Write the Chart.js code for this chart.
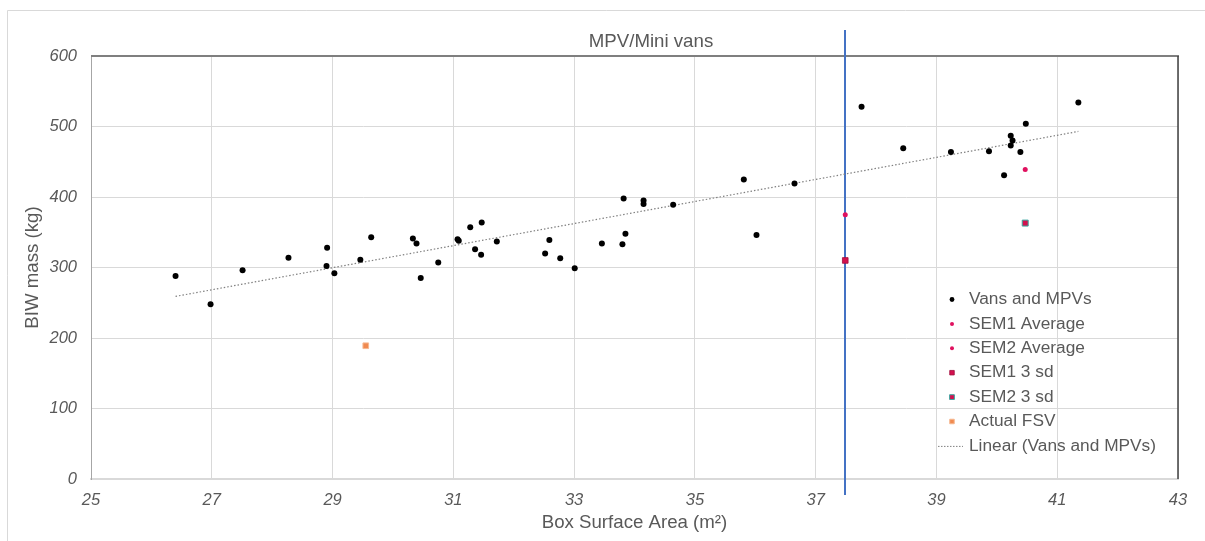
<!DOCTYPE html>
<html><head><meta charset="utf-8">
<script src="https://cdn.jsdelivr.net/npm/chart.js@4"></script>
<style>html,body{margin:0;padding:0;background:#fff;overflow:hidden}canvas{display:block}</style>
</head><body>
<canvas id="c" width="1205" height="541"></canvas>
<script>
const chartTitle = 'MPV/Mini vans';
const xAxisTitle = 'Box Surface Area (m²)';
const yAxisTitle = 'BIW mass (kg)';
const xTicks = [25, 27, 29, 31, 33, 35, 37, 39, 41, 43];
const yTicks = [0, 100, 200, 300, 400, 500, 600];

const vansX = [26.40, 26.98, 27.51, 28.27, 28.91, 28.90, 29.03, 29.64, 29.46, 30.33, 30.39, 30.46, 30.75,
  31.07, 31.09, 31.28, 31.47, 31.36, 31.46, 31.72, 32.52, 32.59, 32.77, 33.01, 33.46, 33.80, 33.85, 33.82,
  34.15, 34.15, 34.64, 35.81, 36.02, 36.65, 37.76, 38.45, 39.24, 39.87, 40.23, 40.26, 40.23, 40.39, 40.48,
  40.12, 41.35];
const vansY = [288, 248, 296, 314, 328, 302, 292, 343, 311, 341, 334, 285, 307,
  340, 338, 357, 364, 326, 318, 337, 320, 339, 313, 299, 334, 333, 348, 398,
  395, 390, 389, 425, 346, 419, 528, 469, 464, 465, 487, 480, 473, 464, 504,
  431, 534];
const sem1AvgX = [37.49], sem1AvgY = [375];
const sem2AvgX = [40.47], sem2AvgY = [439];
const sem1SdX = [37.49], sem1SdY = [310];
const sem2SdX = [40.47], sem2SdY = [363];
const fsvX = [29.55], fsvY = [189];
const trendX = [26.40, 41.35], trendY = [259, 493];
const boundaryX = [37.48];

const FONT = '"Liberation Sans", Arial, sans-serif';
const pts = (xs, ys) => xs.map((x, i) => ({x: x, y: ys[i]}));

const decor = {
  id: 'decor',
  beforeDraw(chart) {
    const ctx = chart.ctx;
    ctx.save();
    ctx.fillStyle = '#fff';
    ctx.fillRect(0, 0, chart.width, chart.height);
    ctx.strokeStyle = '#d9d9d9';
    ctx.lineWidth = 1;
    ctx.beginPath();
    ctx.moveTo(7.5, chart.height);
    ctx.lineTo(7.5, 10.5);
    ctx.lineTo(chart.width, 10.5);
    ctx.stroke();
    ctx.restore();
  },
  beforeDatasetsDraw(chart) {
    const {ctx, chartArea: a, scales: {x}} = chart;
    ctx.save();
    ctx.strokeStyle = '#7f7f7f'; ctx.lineWidth = 2;
    ctx.beginPath(); ctx.moveTo(a.left, a.top); ctx.lineTo(a.right + 1, a.top); ctx.stroke();
    ctx.strokeStyle = '#404040'; ctx.lineWidth = 1.5;
    ctx.beginPath(); ctx.moveTo(a.right, a.top); ctx.lineTo(a.right, a.bottom); ctx.stroke();
    boundaryX.forEach(v => {
      const px = Math.round(x.getPixelForValue(v));
      ctx.strokeStyle = '#4472C4'; ctx.lineWidth = 2;
      ctx.beginPath(); ctx.moveTo(px, a.top - 26); ctx.lineTo(px, a.bottom + 16); ctx.stroke();
    });
    ctx.restore();
  },
  afterDraw(chart) {
    const ctx = chart.ctx;
    ctx.save();
    ctx.fillStyle = '#595959';
    ctx.font = '18.67px ' + FONT;
    ctx.textAlign = 'center';
    ctx.textBaseline = 'middle';
    ctx.fillText(chartTitle, 651, 42);
    // legend
    ctx.font = '17.3px ' + FONT;
    ctx.textAlign = 'left';
    chart.data.datasets.forEach((ds, i) => {
      const y = 299.5 + i * 24.4;
      if (ds.showLine) {
        ctx.strokeStyle = ds.borderColor; ctx.lineWidth = 1; ctx.setLineDash([1.5, 1.5]);
        ctx.beginPath(); ctx.moveTo(938, y + 0.5); ctx.lineTo(963, y + 0.5); ctx.stroke();
        ctx.setLineDash([]);
      } else {
        ctx.fillStyle = ds.backgroundColor; ctx.strokeStyle = ds.borderColor;
        ctx.lineWidth = ds.pointBorderWidth;
        Chart.helpers.drawPoint(ctx, {pointStyle: ds.pointStyle, radius: ds.pointRadius * 0.8, rotation: 0, borderWidth: ds.pointBorderWidth}, 952, y);
      }
      ctx.fillStyle = '#595959';
      ctx.fillText(ds.label, 969, y);
    });
    ctx.restore();
  }
};

new Chart(document.getElementById('c'), {
  type: 'scatter',
  data: {
    datasets: [
      {label: 'Vans and MPVs', data: pts(vansX, vansY), pointStyle: 'circle', pointRadius: 3, pointBorderWidth: 0, backgroundColor: '#000000', borderColor: '#000000'},
      {label: 'SEM1 Average', data: pts(sem1AvgX, sem1AvgY), pointStyle: 'circle', pointRadius: 2.5, pointBorderWidth: 0, backgroundColor: '#E0115F', borderColor: '#E0115F'},
      {label: 'SEM2 Average', data: pts(sem2AvgX, sem2AvgY), pointStyle: 'circle', pointRadius: 2.5, pointBorderWidth: 0, backgroundColor: '#E0115F', borderColor: '#E0115F'},
      {label: 'SEM1 3 sd', data: pts(sem1SdX, sem1SdY), pointStyle: 'rect', pointRadius: 4, pointBorderWidth: 0.8, backgroundColor: '#D3104E', borderColor: '#A00C3C'},
      {label: 'SEM2 3 sd', data: pts(sem2SdX, sem2SdY), pointStyle: 'rect', pointRadius: 4.2, pointBorderWidth: 1, backgroundColor: '#D3104E', borderColor: '#3AA6A0'},
      {label: 'Actual FSV', data: pts(fsvX, fsvY), pointStyle: 'rect', pointRadius: 4, pointBorderWidth: 1, backgroundColor: '#F08A50', borderColor: '#F6B890'},
      {label: 'Linear (Vans and MPVs)', data: pts(trendX, trendY), showLine: true, pointRadius: 0, borderColor: '#808080', backgroundColor: '#808080', borderWidth: 1.2, borderDash: [1.5, 2], fill: false}
    ]
  },
  options: {
    responsive: false,
    devicePixelRatio: 1,
    animation: false,
    events: [],
    layout: {padding: {left: 10, right: 27, top: 56, bottom: 0}},
    plugins: {legend: {display: false}, tooltip: {enabled: false}, title: {display: false}},
    scales: {
      x: {
        type: 'linear', min: 25, max: 43,
        afterBuildTicks: s => { s.ticks = xTicks.map(v => ({value: v})); },
        afterFit: s => { s.height = 62; },
        grid: {color: '#d9d9d9', lineWidth: 1, drawTicks: false},
        border: {color: '#d9d9d9', width: 2},
        ticks: {padding: 12, color: '#595959', font: {family: FONT, size: 16.5, style: 'italic'}, maxRotation: 0},
        title: {display: true, text: xAxisTitle, color: '#595959', font: {family: FONT, size: 18.67}, padding: {top: 0, bottom: 7}}
      },
      y: {
        type: 'linear', min: 0, max: 600,
        afterBuildTicks: s => { s.ticks = yTicks.map(v => ({value: v})); },
        afterFit: s => { s.width = 81; },
        grid: {color: '#d9d9d9', lineWidth: 1, drawTicks: false},
        border: {color: '#a6a6a6', width: 1},
        ticks: {padding: 14, color: '#595959', font: {family: FONT, size: 16.5, style: 'italic'}},
        title: {display: true, text: yAxisTitle, color: '#595959', font: {family: FONT, size: 18.67}, padding: {top: 12, bottom: 0}}
      }
    }
  },
  plugins: [decor]
});
</script>
</body></html>
